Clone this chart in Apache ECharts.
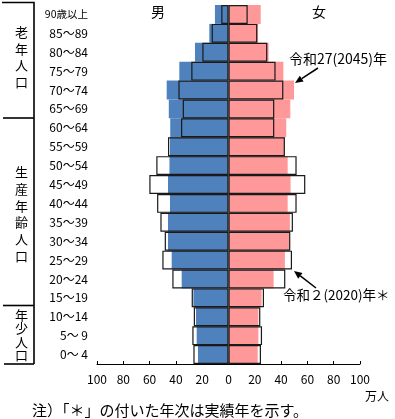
<!DOCTYPE html>
<html><head><meta charset="utf-8">
<script src="https://cdn.jsdelivr.net/npm/echarts@6/dist/echarts.min.js"></script>
<style>html,body{margin:0;padding:0;background:#fff}#c{width:395px;height:419px}</style>
</head><body><div id="c"></div>
<script>
// Age groups, bottom (0-4) to top (90+)
const ageLabels = ['0～ 4','5～ 9','10～14','15～19','20～24','25～29','30～34','35～39','40～44','45～49','50～54','55～59','60～64','65～69','70～74','75～79','80～84','85～89','90歳以上'];
// 万人
const male2020   = [26.7,27.5,26.4,28.0,42.7,50.3,48.5,51.8,54.3,60.2,54.9,46.0,36.1,34.8,38.1,28.3,19.9,12.8,5.5];
const male2045   = [23.2,24.2,24.7,26.7,35.6,43.2,46.0,46.0,44.5,46.0,44.9,44.5,44.3,45.4,47.0,37.4,25.5,14.6,10.3];
const female2020 = [24.7,25.5,24.2,27.0,43.2,48.3,47.0,49.0,51.8,58.4,51.8,42.9,34.8,34.8,41.7,35.8,29.5,21.9,14.6];
const female2045 = [22.2,22.7,22.7,25.2,34.3,42.9,46.0,46.7,45.0,47.2,45.0,42.5,43.9,47.0,49.8,41.7,30.5,22.5,24.5];

const FONT = '"Noto Sans CJK JP", sans-serif';
const chart = echarts.init(document.getElementById('c'), null, {renderer:'canvas'});

const fillSeries = (name, data, color) => ({
  name, type:'bar', data, barGap:'-100%', barCategoryGap:'0%', z:2,
  itemStyle:{color}, silent:true
});
const outlineSeries = (name, data) => ({
  name, type:'bar', data, barGap:'-100%', barCategoryGap:'0%', z:3,
  itemStyle:{color:'rgba(0,0,0,0)', borderColor:'#1a1a1a', borderWidth:1.2}, silent:true
});

const vText = (chars, cy, stride) => ({
  type:'text', x:21.5, y:cy,
  style:{text:chars.split('').join('\n'), font:'13px '+FONT, fill:'#000',
    align:'center', verticalAlign:'middle', lineHeight:stride}
});
const arrow = (x1,y1,x2,y2) => {
  const a = Math.atan2(y2-y1, x2-x1), L = 8, W = 3.5;
  const bx = x2 - L*Math.cos(a), by = y2 - L*Math.sin(a);
  return [
    {type:'line', shape:{x1,y1,x2:bx,y2:by}, style:{stroke:'#000', lineWidth:1.5}},
    {type:'polygon', shape:{points:[[x2,y2],[bx - W*Math.sin(a), by + W*Math.cos(a)],[bx + W*Math.sin(a), by - W*Math.cos(a)]]}, style:{fill:'#000'}}
  ];
};

chart.setOption({
  animation:false,
  backgroundColor:'#fff',
  grid:{left:97, right:35, top:5, bottom:55, containLabel:false},
  xAxis:{type:'value', min:-100, max:100, interval:20,
    axisLine:{show:true, lineStyle:{color:'#000', width:1}},
    axisTick:{show:true, inside:true, length:3, lineStyle:{color:'#000'}},
    splitLine:{show:false},
    axisLabel:{color:'#000', fontSize:12, fontFamily:FONT, margin:9,
      formatter:v => String(Math.abs(v))}
  },
  yAxis:{type:'category', data:ageLabels,
    axisLine:{show:false, onZero:false}, axisTick:{show:false},
    axisLabel:{color:'#000', fontSize:12, fontFamily:FONT, margin:9, align:'right',
      formatter:v => v === '90歳以上' ? '{s|'+v+'}' : v,
      rich:{s:{fontSize:10.5, fontFamily:FONT, color:'#000'}}}
  },
  series:[
    fillSeries('男 2045', male2045.map(v => -v), '#4F81BD'),
    fillSeries('女 2045', female2045, '#FF9999'),
    outlineSeries('男 2020', male2020.map(v => -v)),
    outlineSeries('女 2020', female2020)
  ],
  graphic:[
    {type:'text', x:158, y:12, style:{text:'男', font:'14px '+FONT, fill:'#000', align:'center', verticalAlign:'middle'}},
    {type:'text', x:319, y:12, style:{text:'女', font:'14px '+FONT, fill:'#000', align:'center', verticalAlign:'middle'}},
    {type:'text', x:377, y:396, style:{text:'万人', font:'12px '+FONT, fill:'#000', align:'center', verticalAlign:'middle'}},
    {type:'text', x:32, y:410, style:{text:'注）「＊」の付いた年次は実績年を示す。', font:'15px '+FONT, fill:'#000', align:'left', verticalAlign:'middle'}},
    {type:'text', x:289, y:59, style:{text:'令和27(2045)年', font:'14px '+FONT, fill:'#000', align:'left', verticalAlign:'middle'}},
    {type:'text', x:283, y:295, style:{text:'令和２(2020)年＊', font:'13.5px '+FONT, fill:'#000', align:'left', verticalAlign:'middle'}},
    ...arrow(318,68,295,83),
    ...arrow(316,288,294,271),
    {type:'polyline', shape:{points:[[2,2.5],[34,2.5],[34,364]]}, style:{stroke:'#000', lineWidth:1.6, fill:null}},
    {type:'line', shape:{x1:3,y1:118,x2:34,y2:118}, style:{stroke:'#000', lineWidth:1.6}},
    {type:'line', shape:{x1:3,y1:305.5,x2:34,y2:305.5}, style:{stroke:'#000', lineWidth:1.6}},
    {type:'line', shape:{x1:4,y1:364,x2:34,y2:364}, style:{stroke:'#000', lineWidth:1.6}},
    vText('老年人口', 57, 16.5),
    vText('生産年齢人口', 214, 16.8),
    vText('年少人口', 335, 13.5)
  ]
});
</script></body></html>
